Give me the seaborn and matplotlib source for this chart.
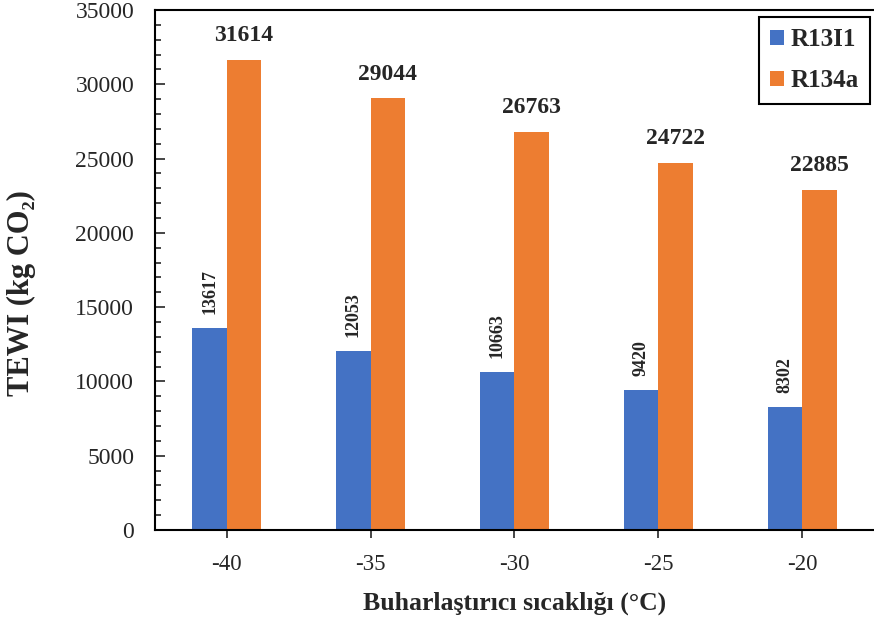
import numpy as np
import pandas as pd
import matplotlib
matplotlib.use('Agg')
import matplotlib.pyplot as plt
import seaborn as sns
from matplotlib.ticker import MultipleLocator

# 数据
temps = ['-40', '-35', '-30', '-25', '-20']
r13i1 = [13617, 12053, 10663, 9420, 8302]
r134a = [31614, 29044, 26763, 24722, 22885]
series_names = ['R13I1', 'R134a']
colors = ['#4472C4', '#ED7D31']

df = pd.DataFrame({
    'temp': temps * 2,
    'tewi': r13i1 + r134a,
    'ref': [series_names[0]] * len(temps) + [series_names[1]] * len(temps),
})

sns.set_style('ticks')
plt.rcParams['font.family'] = ['Liberation Serif', 'DejaVu Serif']

fig = plt.figure(figsize=(8.74, 6.21), dpi=100)
ax = fig.add_axes([0.1773, 0.1465, 0.8227, 0.8374])

sns.barplot(data=df, x='temp', y='tewi', hue='ref', order=temps,
            hue_order=series_names, palette=colors, width=0.48,
            saturation=1, linewidth=0, ax=ax, legend=True)

# 数值标签
ax.bar_label(ax.containers[0], labels=[str(v) for v in r13i1], rotation=90,
             padding=10, fontsize=13, fontweight='bold')
ax.bar_label(ax.containers[1], labels=[str(v) for v in r134a],
             padding=10, fontsize=17, fontweight='bold')

ax.set_ylim(0, 35000)
ax.set_xlim(-0.5, 4.5)
ax.yaxis.set_major_locator(MultipleLocator(5000))
ax.yaxis.set_minor_locator(MultipleLocator(1000))
ax.tick_params(axis='y', which='both', direction='in', labelsize=17, width=1.2, pad=15)
ax.tick_params(axis='y', which='major', length=7)
ax.tick_params(axis='y', which='minor', length=4)
ax.tick_params(axis='x', direction='out', labelsize=16.5, length=6, width=1.2, pad=11)

for s in ['left', 'bottom', 'top']:
    ax.spines[s].set_linewidth(1.5)
    ax.spines[s].set_color('black')
ax.spines['right'].set_visible(False)

ax.set_ylabel('TEWI (kg CO₂)', fontsize=22, fontweight='bold')
ax.yaxis.set_label_coords(-0.166, 0.456)
ax.set_xlabel('Buharlaştırıcı sıcaklığı (°C)', fontsize=18.5, fontweight='bold', labelpad=12)

leg = ax.legend(loc='upper right', bbox_to_anchor=(0.9944, 0.9865), fancybox=False,
                edgecolor='black', framealpha=1, handlelength=0.56, handleheight=0.56,
                borderpad=0.45, labelspacing=0.72, handletextpad=0.25,
                borderaxespad=0, prop={'weight': 'bold', 'size': 18})
leg.get_frame().set_linewidth(1.5)

fig.savefig('out.png', dpi=100)
